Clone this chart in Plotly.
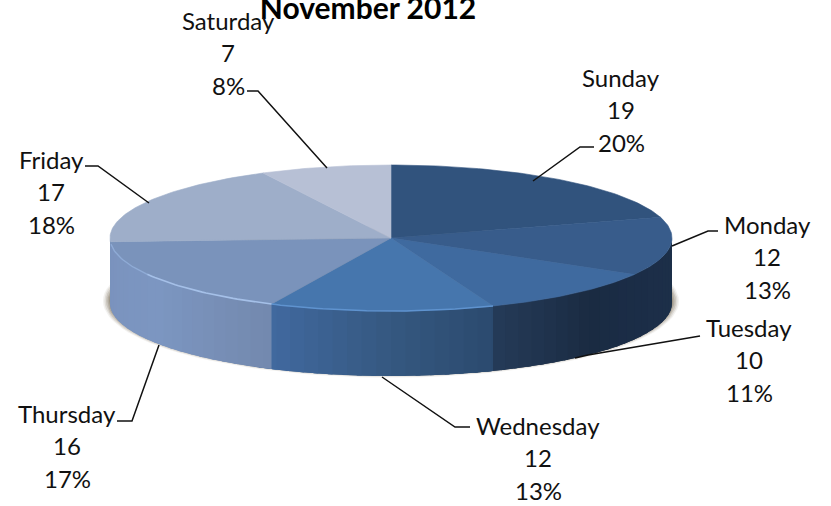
import math
import plotly.graph_objects as go

days = ["Sunday", "Monday", "Tuesday", "Wednesday", "Thursday", "Friday", "Saturday"]
counts = [19, 12, 10, 12, 16, 17, 7]
chart_title = "November 2012"

top_colors = ["#31537d", "#385c8b", "#3f6a9f", "#4676ad", "#7a93bb", "#9eaec9", "#b7c0d5"]
# side-wall colour stops: (angle clockwise from 12 o'clock, colour)
side_stops = [
    (90, "#1d3049"), (120, "#1b2d47"), (135, "#1a2b42"),
    (158.7, "#253b58"), (158.71, "#2b4a6e"), (180, "#355880"), (205.1, "#41699f"),
    (205.11, "#7389ae"), (235, "#7c96c1"), (270, "#7a92bd"),
]
CX, CY, RX, RY, DEPTH = 391, 238, 281, 73, 65
FONT = "Lato"
LABEL_SIZE = 24

label_centres = {"Sunday": (621, 77), "Monday": (767, 224), "Tuesday": (749, 327),
                 "Wednesday": (538, 425), "Thursday": (67, 413), "Friday": (51, 159),
                 "Saturday": (228, 20)}
leaders = {"Sunday": [(594, 147), (580, 147), (533, 181)],
           "Monday": [(718, 231), (708, 231), (672, 246)],
           "Tuesday": [(700, 336), (588, 355), (575, 358)],
           "Wednesday": [(470, 427), (455, 427), (382, 377)],
           "Thursday": [(117, 421), (132, 421), (159, 345)],
           "Friday": [(85, 166), (98, 166), (149, 203)],
           "Saturday": [(247, 91), (258, 91), (327, 168)]}


def pt(t, dy=0, rx=RX, ry=RY, cx=CX, cy=CY):
    r = math.radians(t)
    return cx + rx * math.sin(r), cy - ry * math.cos(r) + dy


def arc(a, b, step=1.0, **k):
    n = max(2, int(abs(b - a) / step) + 1)
    return [pt(a + (b - a) * i / (n - 1), **k) for i in range(n)]


def hex2rgb(h):
    return tuple(int(h[i:i + 2], 16) for i in (1, 3, 5))


def side_color(t):
    for (a, ca), (b, cb) in zip(side_stops, side_stops[1:]):
        if a <= t <= b:
            f = (t - a) / (b - a)
            x, y = hex2rgb(ca), hex2rgb(cb)
            return "rgb(%d,%d,%d)" % tuple(round(x[i] + (y[i] - x[i]) * f) for i in range(3))
    return side_stops[-1][1]


fig = go.Figure()


def poly(points, fill, line=None, width=0.6):
    xs, ys = zip(*points)
    fig.add_trace(go.Scatter(x=list(xs), y=list(ys), mode="lines", fill="toself", fillcolor=fill,
                             line=dict(color=line or fill, width=width), hoverinfo="skip", showlegend=False))


# slice angles from the data
total = sum(counts)
angles = []
a = 0.0
for v in counts:
    b = a + 360.0 * v / total
    angles.append((a, b))
    a = b

# soft shadow beneath the disc
for grow, alpha in [(6, 0.10), (4.5, 0.16), (3, 0.22), (1.5, 0.3), (0, 0.4)]:
    poly(arc(0, 360, 3, rx=RX + 1 + grow, ry=RY + grow * 0.6, cy=CY + DEPTH - 2),
         "rgba(125,115,95,%.2f)" % alpha, width=0)

# side wall: each strip overlaps the next so that no seam shows,
# and a strip always begins exactly on a slice boundary
breaks = sorted({90.0 + 3.0 * i for i in range(60)} | {b for _, b in angles if 90 < b < 270})
for i, t in enumerate(breaks):
    n = breaks[i + 1] if i + 1 < len(breaks) else 270.0
    over = min(n + 4, 270.0)
    poly(arc(t, over, 1) + arc(over, t, 1, dy=DEPTH), side_color((t + n) / 2), width=0)

# top slices
for (s, e), col in zip(angles, top_colors):
    poly([(CX, CY)] + arc(s, e) + [(CX, CY)], col)

# front rim highlight
thu_s, thu_e = angles[4]
for (s, e), col, w in [(angles[3], "#5f93cf", 1.5),
                       ((thu_s, thu_s + 35), "#a5c0e8", 1.6),
                       ((thu_s + 35, thu_e - 2), "#8fabd6", 1.4)]:
    xs, ys = zip(*arc(s, e))
    fig.add_trace(go.Scatter(x=list(xs), y=list(ys), mode="lines", line=dict(color=col, width=w),
                             hoverinfo="skip", showlegend=False))

# leader lines
for d in days:
    xs, ys = zip(*leaders[d])
    fig.add_trace(go.Scatter(x=list(xs), y=list(ys), mode="lines", line=dict(color="#111111", width=1.5),
                             hoverinfo="skip", showlegend=False))

# data labels
annots = []
for d, v in zip(days, counts):
    x, y = label_centres[d]
    for i, txt in enumerate([d, str(v), "%d%%" % round(100 * v / total)]):
        annots.append(dict(x=x, y=y + i * 32.8, text=txt, showarrow=False, xanchor="center", yanchor="middle",
                           font=dict(family=FONT, size=LABEL_SIZE, color="#111111")))

fig.update_layout(
    width=831, height=506, margin=dict(l=0, r=0, t=0, b=0),
    paper_bgcolor="white", plot_bgcolor="white", showlegend=False,
    xaxis=dict(range=[0, 831], visible=False, fixedrange=True),
    yaxis=dict(range=[506, 0], visible=False, fixedrange=True),
    title=dict(text="<b>%s</b>" % chart_title, x=368 / 831, xanchor="center", y=1 - 8 / 506, yanchor="middle",
               font=dict(family=FONT, size=30, color="#000000")),
    annotations=annots,
)
fig.write_html("out.html", config={"displayModeBar": False},
               post_script="document.body.style.margin='0';document.body.style.overflow='hidden';")
